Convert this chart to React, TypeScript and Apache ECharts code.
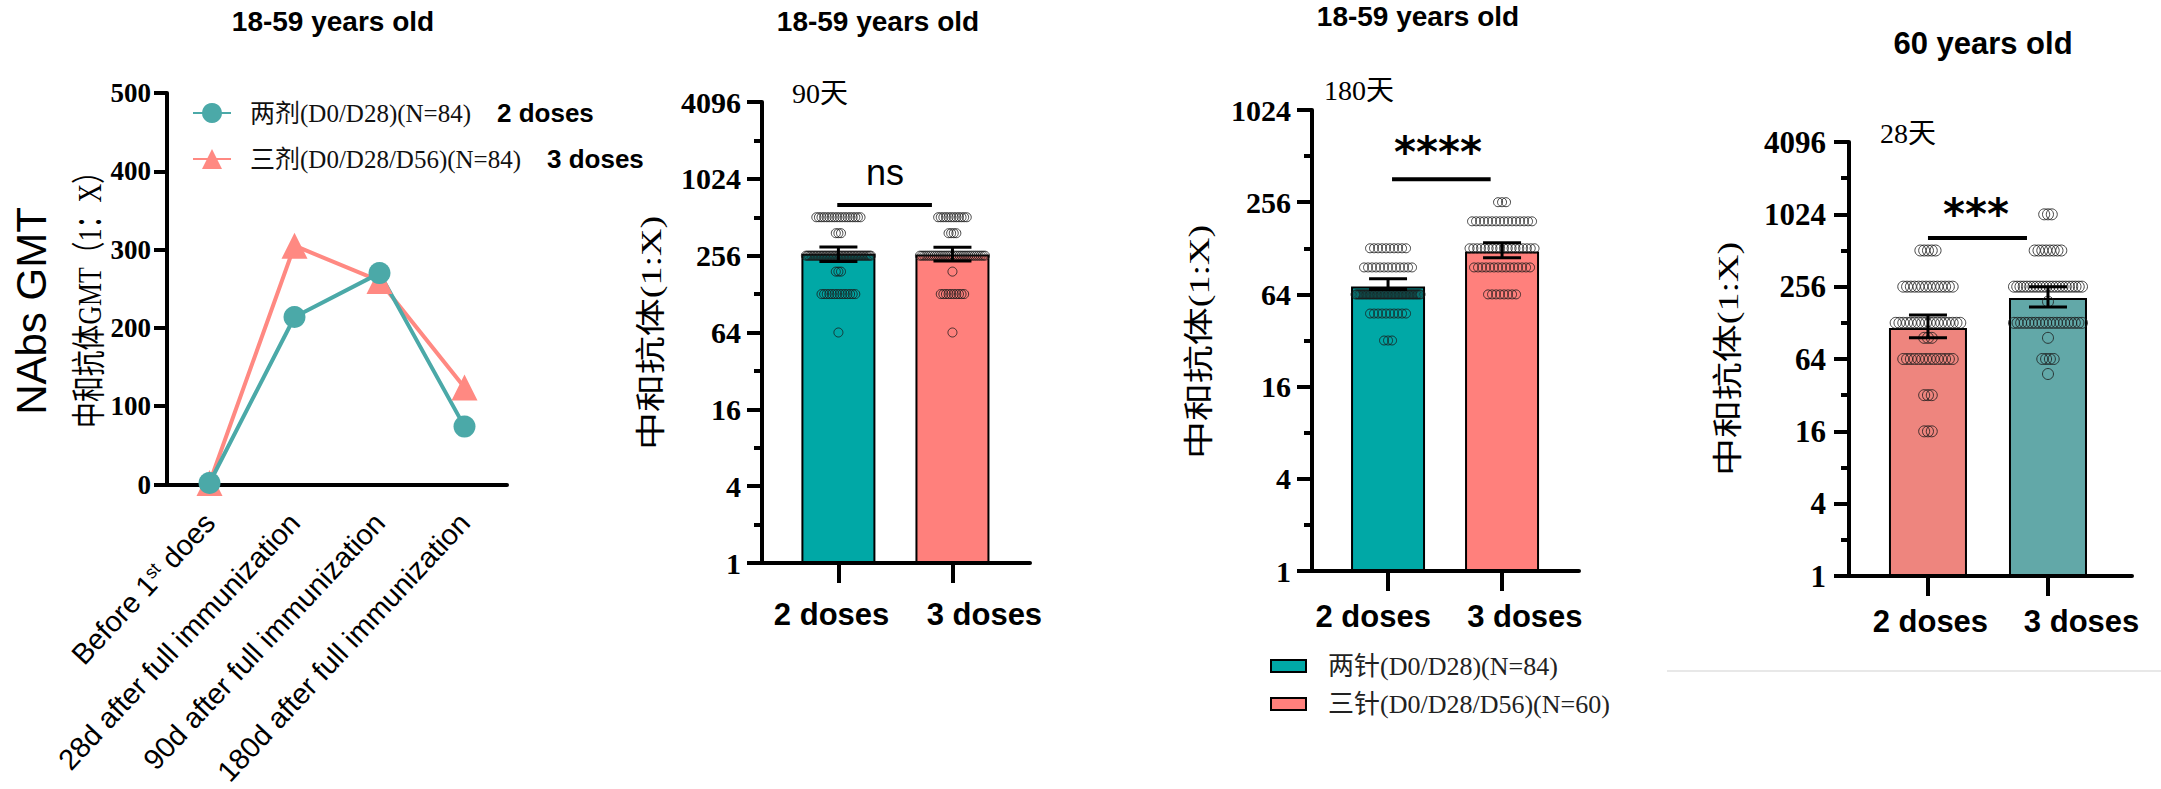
import React, { useEffect, useRef } from 'react';
import * as echarts from 'echarts';

const W = 2161;
const H = 789;

// ---------- GMT over time (18-59 years old) ----------
const timepoints = [
  'Before 1st does',
  '28d after full immunization',
  '90d after full immunization',
  '180d after full immunization',
];
const gmtTwoDoses = [2, 214, 270, 74];
const gmtThreeDoses = [2, 305, 260, 124];
const lineNames = ['两剂(D0/D28)(N=84)', '三剂(D0/D28/D56)(N=84)'];
const doseLabels = ['2 doses', '3 doses'];

// ---------- titer rows: [titer, number of subjects] ----------
// 90 days after full immunization, 18-59 years old
const d90TwoRows = [[512, 18], [384, 3], [256, 45], [192, 3], [128, 14], [64, 1]];
const d90ThreeRows = [[512, 12], [384, 4], [256, 32], [192, 1], [128, 10], [64, 1]];
const d90Gmt = [265, 262];
const d90CiLow = [230, 232];
const d90CiHigh = [300, 298];

// 180 days after full immunization, 18-59 years old
const d180TwoRows = [[128, 10], [96, 13], [64, 48], [48, 10], [32, 3]];
const d180ThreeRows = [[256, 3], [192, 16], [128, 18], [96, 15], [64, 8]];
const d180Gmt = [72, 122];
const d180CiLow = [69, 111];
const d180CiHigh = [81, 139];

// 28 days after full immunization, 60 years old
const old28TwoRows = [[512, 5], [256, 14], [128, 18], [96, 3], [64, 14], [32, 3], [16, 3]];
const old28ThreeRows = [[1024, 3], [512, 8], [256, 22], [192, 1], [128, 20], [96, 1], [64, 4], [48, 1]];
const old28Gmt = [116, 206];
const old28CiLow = [96, 173];
const old28CiHigh = [149, 256];

// significance comparisons
const sigLabels = ['ns', '****', '***'];
const sigLevels = [640, 362, 650];

const barLegendNames = ['两针(D0/D28)(N=84)', '三针(D0/D28/D56)(N=60)'];

// ---------- styling ----------
const TEAL_LINE = '#4BA9A8';
const PINK_LINE = '#FF8982';
const TEAL_BAR = '#00A8A6';
const PINK_BAR = '#FF807C';
const PINK_OLD = '#EE857E';
const TEAL_OLD = '#62A8A8';

const SERIF = "'Liberation Serif', 'Times New Roman', serif";
const SANS = "'Liberation Sans', Arial, sans-serif";
const CJK_SERIF = "'Liberation Serif', 'Noto Sans CJK SC', serif";
const CJK_MIX = "'Liberation Serif', 'Noto Sans CJK SC', sans-serif";

// lay out one group's points in horizontal rows (one row per titer)
function spreadRows(rows: number[][], center: number, stepPx: number, capPx: number, unitPx: number) {
  const pts: number[][] = [];
  rows.forEach(([titer, n]) => {
    const span = n > 1 ? Math.min((n - 1) * stepPx, capPx) : 0;
    for (let i = 0; i < n; i++) {
      const off = n > 1 ? -span / 2 + (i * span) / (n - 1) : 0;
      pts.push([center + off / unitPx, titer]);
    }
  });
  return pts;
}

const barPanels = [
  {
    grid: { left: 762, top: 102, width: 268, height: 461 },
    xMin: -0.67, xMax: 1.68, unitPx: 114,
    yMax: 4096, minorMax: 12,
    colors: [TEAL_BAR, PINK_BAR],
    names: ['d90-two', 'd90-three'],
    gmt: d90Gmt, low: d90CiLow, high: d90CiHigh, rows: [d90TwoRows, d90ThreeRows],
    stepPx: 2.6, capPx: 65, barWidth: 74, dot: 9,
    sig: { level: sigLevels[0], from: -0.01, to: 0.82 },
    labelPos: [-0.06, 1.28], labelMargin: 36, tickFont: 30, tickMargin: 21,
  },
  {
    grid: { left: 1312, top: 110, width: 267, height: 461 },
    xMin: -0.667, xMax: 1.675, unitPx: 114,
    yMax: 1024, minorMax: 10,
    colors: [TEAL_BAR, PINK_BAR],
    names: barLegendNames,
    gmt: d180Gmt, low: d180CiLow, high: d180CiHigh, rows: [d180TwoRows, d180ThreeRows],
    stepPx: 4, capPx: 65, barWidth: 74, dot: 9,
    sig: { level: sigLevels[1], from: 0.035, to: 0.9 },
    labelPos: [-0.13, 1.2], labelMargin: 30, tickFont: 30, tickMargin: 21,
  },
  {
    grid: { left: 1849, top: 142, width: 283, height: 434 },
    xMin: -0.658, xMax: 1.7, unitPx: 120,
    yMax: 4096, minorMax: 12,
    colors: [PINK_OLD, TEAL_OLD],
    names: ['old28-two', 'old28-three'],
    gmt: old28Gmt, low: old28CiLow, high: old28CiHigh, rows: [old28TwoRows, old28ThreeRows],
    stepPx: 3.8, capPx: 68, barWidth: 78, dot: 11,
    sig: { level: sigLevels[2], from: 0, to: 0.825 },
    labelPos: [0.02, 1.28], labelMargin: 30, tickFont: 31, tickMargin: 23,
  },
];

function text(
  x: number,
  y: number,
  str: string,
  size: number,
  family: string,
  weight = 'normal',
  rotation = 0,
  scaleX = 1,
  scaleY = 1,
) {
  return {
    type: 'text',
    x,
    y,
    rotation,
    scaleX,
    scaleY,
    silent: true,
    style: {
      text: str,
      fontSize: size,
      fontFamily: family,
      fontWeight: weight,
      fill: '#000',
      align: 'center',
      verticalAlign: 'middle',
    },
  };
}

function buildOption() {
  const grid: any[] = [{ left: 167, top: 93, width: 340, height: 396 }];
  const xAxis: any[] = [
    {
      type: 'category',
      gridIndex: 0,
      data: timepoints,
      boundaryGap: true,
      axisLine: { onZero: false, lineStyle: { color: '#000', width: 4 } },
      axisTick: { alignWithLabel: true, length: 17, lineStyle: { color: '#000', width: 4 } },
      axisLabel: {
        interval: 0,
        rotate: 47,
        margin: 33,
        color: '#000',
        formatter: (v: string) => '{n|' + v.replace(/(\d)(st)\b/, '$1}{s|$2}{n|') + '}',
        rich: {
          n: { fontSize: 29, fontFamily: SANS, color: '#000' },
          s: { fontSize: 18, fontFamily: SANS, color: '#000', verticalAlign: 'top' },
        },
      },
      splitLine: { show: false },
    },
  ];
  const yAxis: any[] = [
    {
      type: 'value',
      gridIndex: 0,
      min: 0,
      max: 500,
      interval: 100,
      axisLine: { show: true, onZero: false, lineStyle: { color: '#000', width: 4 } },
      axisTick: { show: true, length: 13, lineStyle: { color: '#000', width: 4 } },
      axisLabel: { margin: 16, fontFamily: SERIF, fontWeight: 'bold', fontSize: 27, color: '#000' },
      splitLine: { show: false },
    },
  ];
  const series: any[] = [
    {
      type: 'line',
      name: lineNames[1],
      xAxisIndex: 0,
      yAxisIndex: 0,
      data: gmtThreeDoses,
      symbol: 'triangle',
      symbolSize: 26,
      lineStyle: { color: PINK_LINE, width: 4 },
      itemStyle: { color: PINK_LINE },
      silent: true,
    },
    {
      type: 'line',
      name: lineNames[0],
      xAxisIndex: 0,
      yAxisIndex: 0,
      data: gmtTwoDoses,
      symbol: 'circle',
      symbolSize: 22,
      lineStyle: { color: TEAL_LINE, width: 4 },
      itemStyle: { color: TEAL_LINE },
      silent: true,
    },
  ];

  barPanels.forEach((p, k) => {
    const g = k + 1;
    grid.push(p.grid);
    const xi = xAxis.length;
    xAxis.push({
      type: 'value',
      gridIndex: g,
      min: p.xMin,
      max: p.xMax,
      axisLine: { show: true, onZero: false, lineStyle: { color: '#000', width: 4 } },
      axisTick: { show: true, customValues: [0, 1], length: 20, lineStyle: { color: '#000', width: 4 } },
      axisLabel: {
        show: true,
        customValues: p.labelPos,
        formatter: (v: number) => doseLabels[v < 0.5 ? 0 : 1],
        margin: p.labelMargin,
        fontSize: 31,
        fontWeight: 'bold',
        fontFamily: SANS,
        color: '#000',
      },
      splitLine: { show: false },
    });
    const yi = yAxis.length;
    yAxis.push({
      type: 'log',
      logBase: 4,
      gridIndex: g,
      position: 'left',
      min: 1,
      max: p.yMax,
      axisLine: { show: true, onZero: false, lineStyle: { color: '#000', width: 4 } },
      axisTick: { show: true, length: 15, lineStyle: { color: '#000', width: 4 } },
      axisLabel: {
        margin: p.tickMargin,
        formatter: (v: number) => String(Math.round(v)),
        fontFamily: SERIF,
        fontWeight: 'bold',
        fontSize: p.tickFont,
        color: '#000',
      },
      splitLine: { show: false },
    });
    // minor ticks at every power of two
    yAxis.push({
      type: 'value',
      gridIndex: g,
      position: 'left',
      min: 0,
      max: p.minorMax,
      interval: 1,
      axisLine: { show: false, onZero: false },
      axisTick: { show: true, length: 8, lineStyle: { color: '#000', width: 4 } },
      axisLabel: { show: false },
      splitLine: { show: false },
    });

    [0, 1].forEach((c) => {
      series.push({
        type: 'bar',
        name: p.names[c],
        xAxisIndex: xi,
        yAxisIndex: yi,
        data: [[c, p.gmt[c]]],
        barWidth: p.barWidth,
        barGap: '-100%',
        itemStyle: { color: p.colors[c], borderColor: '#000', borderWidth: 2 },
        z: 2,
        silent: true,
      });
    });

    series.push({
      type: 'scatter',
      xAxisIndex: xi,
      yAxisIndex: yi,
      data: [
        ...spreadRows(p.rows[0], 0, p.stepPx, p.capPx, p.unitPx),
        ...spreadRows(p.rows[1], 1, p.stepPx, p.capPx, p.unitPx),
      ],
      symbol: 'circle',
      symbolSize: p.dot,
      itemStyle: { color: 'rgba(0,0,0,0)', borderColor: '#1a1a1a', borderWidth: 1 },
      z: 3,
      silent: true,
    });

    series.push({
      type: 'custom',
      xAxisIndex: xi,
      yAxisIndex: yi,
      data: [0, 1].map((c) => [c, p.low[c], p.high[c]]),
      z: 4,
      silent: true,
      renderItem: (_params: any, api: any) => {
        const x = api.value(0);
        const lo = api.coord([x, api.value(1)]);
        const hi = api.coord([x, api.value(2)]);
        const hw = 19;
        const st = { stroke: '#000', lineWidth: 3 };
        return {
          type: 'group',
          children: [
            { type: 'line', shape: { x1: lo[0], y1: lo[1], x2: hi[0], y2: hi[1] }, style: st },
            { type: 'line', shape: { x1: lo[0] - hw, y1: lo[1], x2: lo[0] + hw, y2: lo[1] }, style: st },
            { type: 'line', shape: { x1: hi[0] - hw, y1: hi[1], x2: hi[0] + hw, y2: hi[1] }, style: st },
          ],
        };
      },
    });

    series.push({
      type: 'line',
      xAxisIndex: xi,
      yAxisIndex: yi,
      data: [
        [p.sig.from, p.sig.level],
        [p.sig.to, p.sig.level],
      ],
      symbol: 'none',
      lineStyle: { color: '#000', width: 4 },
      z: 4,
      silent: true,
    });
  });

  const ROT = Math.PI / 2;
  const graphic: any[] = [
    text(333, 21, '18-59 years old', 28, SANS, 'bold'),
    text(878, 21, '18-59 years old', 28, SANS, 'bold'),
    text(1418, 16, '18-59 years old', 28, SANS, 'bold'),
    text(1983, 43, '60 years old', 31, SANS, 'bold'),
    text(31, 311, 'NAbs GMT', 42, SANS, 'normal', ROT),
    text(90, 293, '中和抗体GMT（1：X）', 34, CJK_MIX, 'normal', ROT, 0.76, 1),
    text(651, 333, '中和抗体(1:X)', 38, CJK_MIX, 'normal', ROT, 1, 0.78),
    text(1199, 342, '中和抗体(1:X)', 38, CJK_MIX, 'normal', ROT, 1, 0.78),
    text(1728, 359, '中和抗体(1:X)', 38, CJK_MIX, 'normal', ROT, 1, 0.78),
    text(820, 93, '90天', 28, CJK_SERIF),
    text(1359, 90, '180天', 28, CJK_SERIF),
    text(1908, 133, '28天', 28, CJK_SERIF),
    text(885, 172, sigLabels[0], 36, SANS),
    text(1438, 152, sigLabels[1], 42, "'DejaVu Sans', sans-serif", 'bold'),
    text(1976, 214, sigLabels[2], 42, "'DejaVu Sans', sans-serif", 'bold'),
    {
      type: 'line',
      silent: true,
      shape: { x1: 1667, y1: 671, x2: 2161, y2: 671 },
      style: { stroke: '#e8e8e8', lineWidth: 2 },
    },
  ];

  const doseTag: Record<string, string> = {
    [lineNames[0]]: doseLabels[0],
    [lineNames[1]]: doseLabels[1],
  };

  return {
    animation: false,
    backgroundColor: '#fff',
    textStyle: { fontFamily: SANS },
    grid,
    xAxis,
    yAxis,
    series,
    graphic,
    legend: [
      {
        data: [lineNames[0], lineNames[1]],
        orient: 'vertical',
        left: 187,
        top: 95,
        itemWidth: 38,
        itemHeight: 25,
        itemGap: 20,
        selectedMode: false,
        formatter: (name: string) => `{a|${name}}{b|${doseTag[name]}}`,
        textStyle: {
          rich: {
            a: { fontSize: 25, fontFamily: CJK_SERIF, color: '#111', padding: [0, 0, 0, 14] },
            b: { fontSize: 26, fontFamily: SANS, fontWeight: 'bold', color: '#000', padding: [0, 0, 0, 26] },
          },
        },
      },
      {
        data: barLegendNames,
        orient: 'vertical',
        left: 1265,
        top: 648,
        icon: 'rect',
        itemWidth: 35,
        itemHeight: 12,
        itemGap: 12,
        selectedMode: false,
        itemStyle: { borderColor: '#000', borderWidth: 2 },
        textStyle: { fontSize: 26, fontFamily: CJK_SERIF, color: '#222', padding: [0, 0, 0, 17] },
      },
    ],
  };
}

export default function App() {
  const ref = useRef<HTMLDivElement>(null);
  useEffect(() => {
    if (!ref.current) return;
    const chart = echarts.init(ref.current, null, { renderer: 'svg', width: W, height: H });
    chart.setOption(buildOption() as any);
    return () => chart.dispose();
  }, []);
  return (
    <div
      ref={ref}
      style={{ position: 'absolute', left: 0, top: 0, width: W, height: H, background: '#fff' }}
    />
  );
}
